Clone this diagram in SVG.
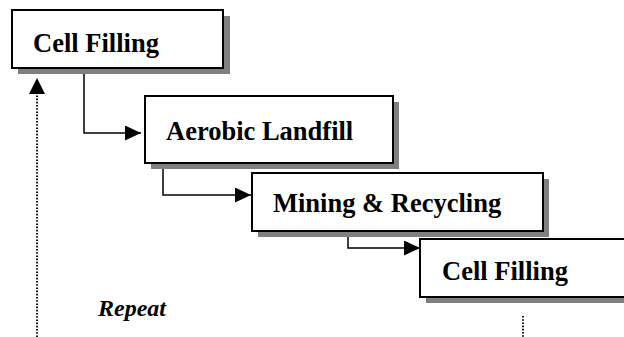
<svg xmlns="http://www.w3.org/2000/svg" width="624" height="337" viewBox="0 0 624 337">
<defs>
<style>
.shadow{fill:#808080;}
.box{fill:#fff;stroke:#000;stroke-width:2;}
.lbl{font-family:"Liberation Serif","Times New Roman",serif;font-weight:bold;font-size:26.5px;fill:#000;}
.conn{fill:none;stroke:#000;stroke-width:1.5;}
.dot{fill:none;stroke:#000;stroke-width:1.8;stroke-dasharray:1.6 1.6;}
</style>
<marker id="ah" markerWidth="16" markerHeight="15" refX="16" refY="7.5" orient="auto" markerUnits="userSpaceOnUse">
<path d="M0,0 L16,7.5 L0,15 Z" fill="#000"/>
</marker>
</defs>
<rect width="624" height="337" fill="#fff"/>
<g id="connectors">
<path class="conn" d="M84,69 V133 H141" marker-end="url(#ah)"/>
<path class="conn" d="M163,164 V195 H251" marker-end="url(#ah)"/>
<path class="conn" d="M348,232 V248 H420" marker-end="url(#ah)"/>
<path class="dot" d="M37,337 V94"/>
<path d="M29,94 L37,78 L45,94 Z" fill="#000"/>
<path class="dot" d="M523,316 V337"/>
</g>
<g id="node1">
<rect class="shadow" x="18" y="16" width="212" height="58"/>
<rect class="box" x="12" y="10" width="211" height="58"/>
<text class="lbl" x="33" y="52">Cell Filling</text>
</g>
<g id="node2">
<rect class="shadow" x="151" y="102" width="248" height="67"/>
<rect class="box" x="145" y="96" width="248" height="67"/>
<text class="lbl" x="166" y="140">Aerobic Landfill</text>
</g>
<g id="node3">
<rect class="shadow" x="258" y="179" width="291" height="58"/>
<rect class="box" x="252" y="173" width="291" height="58"/>
<text class="lbl" x="273" y="212">Mining &amp; Recycling</text>
</g>
<g id="node4">
<rect class="shadow" x="426" y="245" width="210" height="58"/>
<rect class="box" x="420" y="239" width="210" height="58"/>
<text class="lbl" x="442" y="280">Cell Filling</text>
</g>
<text x="98" y="316" font-family="'Liberation Serif','Times New Roman',serif" font-weight="bold" font-style="italic" font-size="24" fill="#000">Repeat</text>
</svg>
